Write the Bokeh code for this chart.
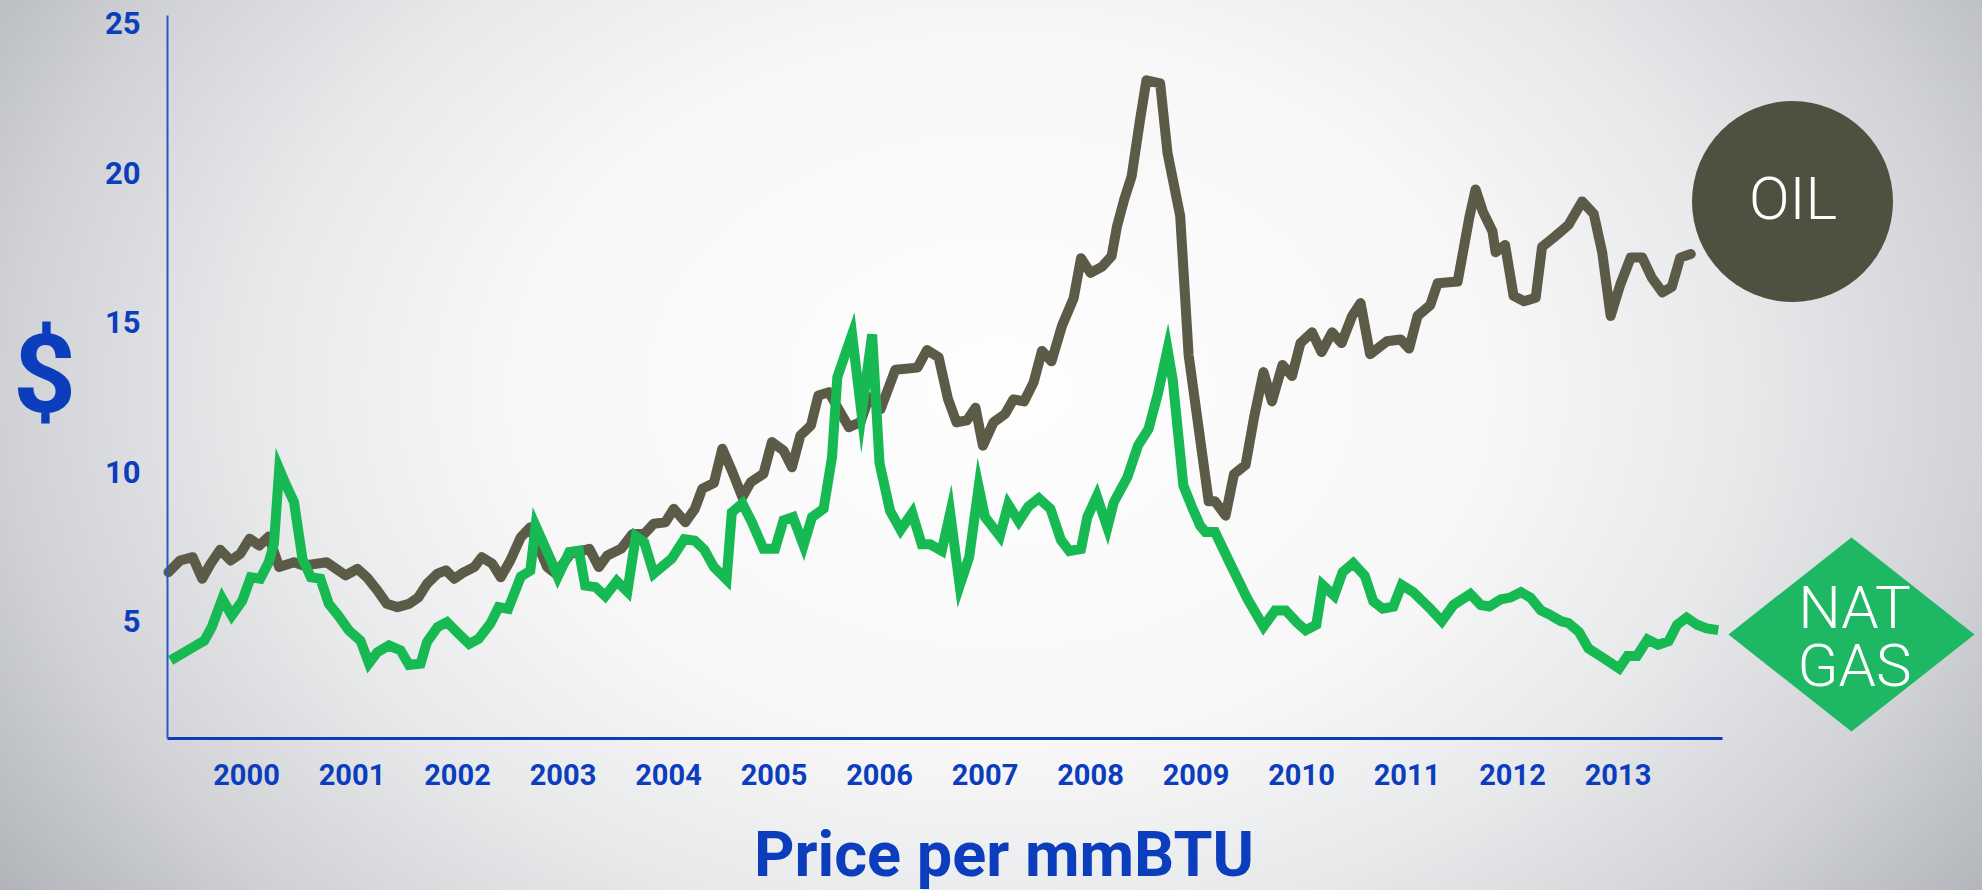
from bokeh.plotting import figure
from bokeh.models import Range1d, FixedTicker
from bokeh.core.properties import value
from bokeh.embed import file_html
from bokeh.resources import INLINE

# ---------------- data ----------------
year_ticks = list(range(2000, 2014))
price_ticks = [5, 10, 15, 20, 25]

oil_x = [1999.26, 1999.37, 1999.49, 1999.58, 1999.66, 1999.75, 1999.85, 1999.94,
         2000.03, 2000.12, 2000.21, 2000.31, 2000.45, 2000.54, 2000.76, 2000.94,
         2001.05, 2001.14, 2001.24, 2001.33, 2001.43, 2001.54, 2001.63, 2001.71,
         2001.81, 2001.89, 2001.97, 2002.06, 2002.16, 2002.23, 2002.33, 2002.41,
         2002.50, 2002.60, 2002.69, 2002.85, 2002.93, 2003.07, 2003.25, 2003.34,
         2003.42, 2003.55, 2003.66, 2003.77, 2003.86, 2003.97, 2004.05, 2004.16,
         2004.25, 2004.32, 2004.43, 2004.51, 2004.60, 2004.70, 2004.78, 2004.90,
         2004.98, 2005.09, 2005.17, 2005.25, 2005.35, 2005.42, 2005.52, 2005.60,
         2005.71, 2005.82, 2005.90, 2006.01, 2006.15, 2006.36, 2006.45, 2006.56,
         2006.65, 2006.73, 2006.83, 2006.91, 2006.98, 2007.08, 2007.19, 2007.27,
         2007.37, 2007.46, 2007.54, 2007.63, 2007.73, 2007.84, 2007.91, 2008.00,
         2008.11, 2008.20, 2008.25, 2008.32, 2008.39, 2008.47, 2008.53, 2008.66,
         2008.73, 2008.85, 2008.93, 2009.12, 2009.18, 2009.28, 2009.36, 2009.47,
         2009.55, 2009.64, 2009.72, 2009.82, 2009.91, 2009.99, 2010.10, 2010.19,
         2010.29, 2010.38, 2010.48, 2010.56, 2010.65, 2010.81, 2010.94, 2011.02,
         2011.10, 2011.22, 2011.29, 2011.48, 2011.59, 2011.65, 2011.72, 2011.81,
         2011.84, 2011.93, 2012.01, 2012.11, 2012.22, 2012.28, 2012.39, 2012.53,
         2012.66, 2012.77, 2012.85, 2012.93, 2013.02, 2013.12, 2013.23, 2013.32,
         2013.42, 2013.51, 2013.59, 2013.69]
oil_y = [6.65, 7.04, 7.15, 6.43, 6.93, 7.40, 7.04, 7.26,
         7.77, 7.54, 7.84, 6.82, 6.98, 6.87, 6.98, 6.54,
         6.76, 6.48, 6.04, 5.59, 5.48, 5.59, 5.81, 6.26,
         6.60, 6.71, 6.43, 6.65, 6.82, 7.15, 6.93, 6.48,
         7.04, 7.82, 8.15, 6.82, 6.60, 7.26, 7.43, 6.82,
         7.21, 7.43, 7.93, 7.93, 8.27, 8.32, 8.77, 8.32,
         8.77, 9.44, 9.63, 10.78, 10.05, 9.16, 9.66, 9.94,
         11.00, 10.72, 10.16, 11.22, 11.56, 12.56, 12.67, 12.17,
         11.50, 11.67, 12.50, 12.10, 13.42, 13.49, 14.08, 13.84,
         12.43, 11.66, 11.73, 12.15, 10.88, 11.66, 11.94, 12.43,
         12.36, 12.99, 14.05, 13.70, 14.89, 15.81, 17.15, 16.66,
         16.87, 17.22, 18.20, 19.12, 19.89, 21.79, 23.10, 23.00,
         20.67, 18.56, 13.91, 9.02, 9.02, 8.54, 9.93, 10.24,
         11.82, 13.34, 12.36, 13.58, 13.21, 14.31, 14.67, 14.01,
         14.67, 14.31, 15.22, 15.65, 13.94, 14.37, 14.43, 14.13,
         15.22, 15.58, 16.31, 16.37, 18.50, 19.45, 18.70, 18.05,
         17.35, 17.59, 15.89, 15.71, 15.83, 17.53, 17.84, 18.26,
         19.05, 18.63, 17.35, 15.22, 16.25, 17.17, 17.17, 16.50,
         16.01, 16.19, 17.17, 17.29]

gas_x = [1999.28, 1999.44, 1999.60, 1999.67, 1999.77, 1999.86, 1999.96, 2000.04,
         2000.13, 2000.21, 2000.26, 2000.31, 2000.37, 2000.45, 2000.53, 2000.61,
         2000.70, 2000.78, 2000.87, 2000.97, 2001.08, 2001.16, 2001.24, 2001.35,
         2001.46, 2001.54, 2001.65, 2001.71, 2001.81, 2001.90, 2002.01, 2002.11,
         2002.20, 2002.31, 2002.39, 2002.48, 2002.60, 2002.69, 2002.74, 2002.90,
         2002.95, 2003.06, 2003.15, 2003.21, 2003.31, 2003.40, 2003.51, 2003.61,
         2003.69, 2003.77, 2003.86, 2004.03, 2004.15, 2004.25, 2004.34, 2004.43,
         2004.55, 2004.60, 2004.70, 2004.79, 2004.90, 2005.01, 2005.09, 2005.18,
         2005.28, 2005.36, 2005.47, 2005.55, 2005.60, 2005.74, 2005.83, 2005.93,
         2006.00, 2006.10, 2006.20, 2006.31, 2006.40, 2006.48, 2006.59, 2006.67,
         2006.76, 2006.85, 2006.94, 2007.00, 2007.14, 2007.22, 2007.32, 2007.41,
         2007.51, 2007.62, 2007.72, 2007.80, 2007.91, 2007.97, 2008.06, 2008.16,
         2008.22, 2008.35, 2008.45, 2008.55, 2008.64, 2008.73, 2008.78, 2008.88,
         2008.96, 2009.04, 2009.09, 2009.18, 2009.33, 2009.49, 2009.64, 2009.75,
         2009.85, 2009.96, 2010.04, 2010.14, 2010.20, 2010.31, 2010.39, 2010.49,
         2010.60, 2010.68, 2010.77, 2010.87, 2010.95, 2011.06, 2011.22, 2011.33,
         2011.44, 2011.60, 2011.70, 2011.78, 2011.89, 2011.98, 2012.08, 2012.17,
         2012.27, 2012.34, 2012.46, 2012.53, 2012.63, 2012.72, 2012.83, 2013.01,
         2013.09, 2013.18, 2013.28, 2013.38, 2013.48, 2013.56, 2013.65, 2013.75,
         2013.84, 2013.95]
gas_y = [3.70, 4.03, 4.36, 4.81, 5.76, 5.20, 5.70, 6.48,
         6.43, 6.98, 7.60, 10.10, 9.60, 9.00, 7.10, 6.48,
         6.43, 5.59, 5.20, 4.70, 4.36, 3.60, 3.97, 4.20,
         4.03, 3.55, 3.59, 4.31, 4.81, 4.98, 4.59, 4.25,
         4.42, 4.92, 5.48, 5.42, 6.50, 6.70, 8.20, 6.93,
         6.50, 7.32, 7.37, 6.20, 6.15, 5.85, 6.35, 6.00,
         7.85, 7.65, 6.60, 7.10, 7.75, 7.70, 7.40, 6.82,
         6.40, 8.65, 8.95, 8.32, 7.43, 7.43, 8.38, 8.49,
         7.55, 8.49, 8.77, 10.50, 13.17, 14.60, 11.95, 14.60,
         10.30, 8.70, 8.07, 8.63, 7.58, 7.58, 7.36, 8.63,
         6.20, 7.15, 9.50, 8.49, 7.86, 8.91, 8.35, 8.84,
         9.12, 8.77, 7.72, 7.36, 7.43, 8.49, 9.19, 8.14,
         8.98, 9.83, 10.88, 11.44, 12.64, 14.10, 13.06, 9.55,
         8.84, 8.20, 7.99, 7.99, 6.89, 5.74, 4.83, 5.37,
         5.37, 4.95, 4.71, 4.89, 6.22, 5.86, 6.65, 6.95,
         6.53, 5.68, 5.43, 5.50, 6.22, 5.98, 5.43, 5.01,
         5.55, 5.92, 5.55, 5.50, 5.74, 5.80, 5.98, 5.80,
         5.37, 5.25, 5.01, 4.95, 4.65, 4.10, 3.85, 3.43,
         3.85, 3.85, 4.40, 4.22, 4.34, 4.89, 5.13, 4.89,
         4.77, 4.71]

# ---------------- layout constants ----------------
W, H = 1982, 890
X_RANGE = (1997.668, 2016.455)
Y_RANGE = (-3.997, 25.769)
AXIS_X = 1999.251      # where the price axis stands
AXIS_Y = 1.087         # where the year axis stands
X_END = 2013.99
Y_END = 25.27

BLUE = "#0b3dbd"
OIL_C = "#5c5b48"
OIL_BADGE = "#4f5040"
GAS_C = "#17b953"
GAS_BADGE = "#1eb764"

p = figure(width=W, height=H, x_range=Range1d(*X_RANGE), y_range=Range1d(*Y_RANGE),
           output_backend="svg", toolbar_location=None, title_location=None,
           min_border=0)
p.min_border_left = p.min_border_right = p.min_border_top = p.min_border_bottom = 0
p.outline_line_color = None
p.background_fill_color = None
p.border_fill_color = None
p.grid.visible = False
p.styles = {"background": "radial-gradient(ellipse 990px 720px at 1000px 390px, "
                          "#fefefe 0%, #f7f7f7 50%, #e8e9eb 75%, #d0d2d5 100%, #a4a7ac 132%)"}

xa = p.xaxis[0]
xa.fixed_location = AXIS_Y
xa.bounds = (AXIS_X, X_END)
xa.ticker = FixedTicker(ticks=year_ticks)
xa.axis_line_color = BLUE
xa.axis_line_width = 3
xa.major_tick_line_color = None
xa.minor_tick_line_color = None
xa.major_label_text_font = "Roboto"
xa.major_label_text_font_style = "bold"
xa.major_label_text_font_size = "29px"
xa.major_label_text_color = BLUE
xa.major_label_standoff = 20

ya = p.yaxis[0]
ya.fixed_location = AXIS_X
ya.bounds = (AXIS_Y, Y_END)
ya.ticker = FixedTicker(ticks=price_ticks)
ya.axis_line_color = "#2a56c9"
ya.axis_line_width = 2
ya.major_tick_line_color = None
ya.minor_tick_line_color = None
ya.major_label_text_font = "Roboto"
ya.major_label_text_font_style = "bold"
ya.major_label_text_font_size = "31px"
ya.major_label_text_color = BLUE
ya.major_label_standoff = 21

# series
p.line(oil_x, oil_y, line_color=OIL_C, line_width=10, line_join="round", line_cap="round")
p.line(gas_x, gas_y, line_color=GAS_C, line_width=10, line_join="miter")

# OIL badge
OIL_BADGE_X, OIL_BADGE_Y = 2014.654, 19.047
p.scatter([OIL_BADGE_X], [OIL_BADGE_Y], marker="circle", size=201,
          fill_color=OIL_BADGE, line_color=None)
p.text([2014.659], [19.14], text=["OIL"], text_font=value("Roboto Light"),
       text_font_size="60px", text_color="white", text_align="center",
       text_baseline="middle")

# NAT GAS badge (diamond)
GX, GY = 2015.213, 4.565
GHW, GHH = 1.166, 3.244
p.patch([GX - GHW, GX, GX + GHW, GX], [GY, GY + GHH, GY, GY - GHH],
        fill_color=GAS_BADGE, line_color=None)
p.text([2015.242, 2015.242], [5.478, 3.515], text=["NAT", "GAS"],
       text_font=value("Roboto Light"), text_font_size="60px", text_color="white",
       text_align="center", text_baseline="middle")

# "$" and bottom title
p.text([1998.085], [13.26], text=["$"], text_font=value("Roboto"),
       text_font_style="bold", text_font_size="110px", text_color=BLUE,
       text_align="center", text_baseline="middle")
p.text([2007.18], [-2.803], text=["Price per mmBTU"], text_font=value("Roboto"),
       text_font_style="bold", text_font_size="63px", text_color=BLUE,
       text_align="center", text_baseline="middle")

open("out.html", "w").write(file_html(p, INLINE))
